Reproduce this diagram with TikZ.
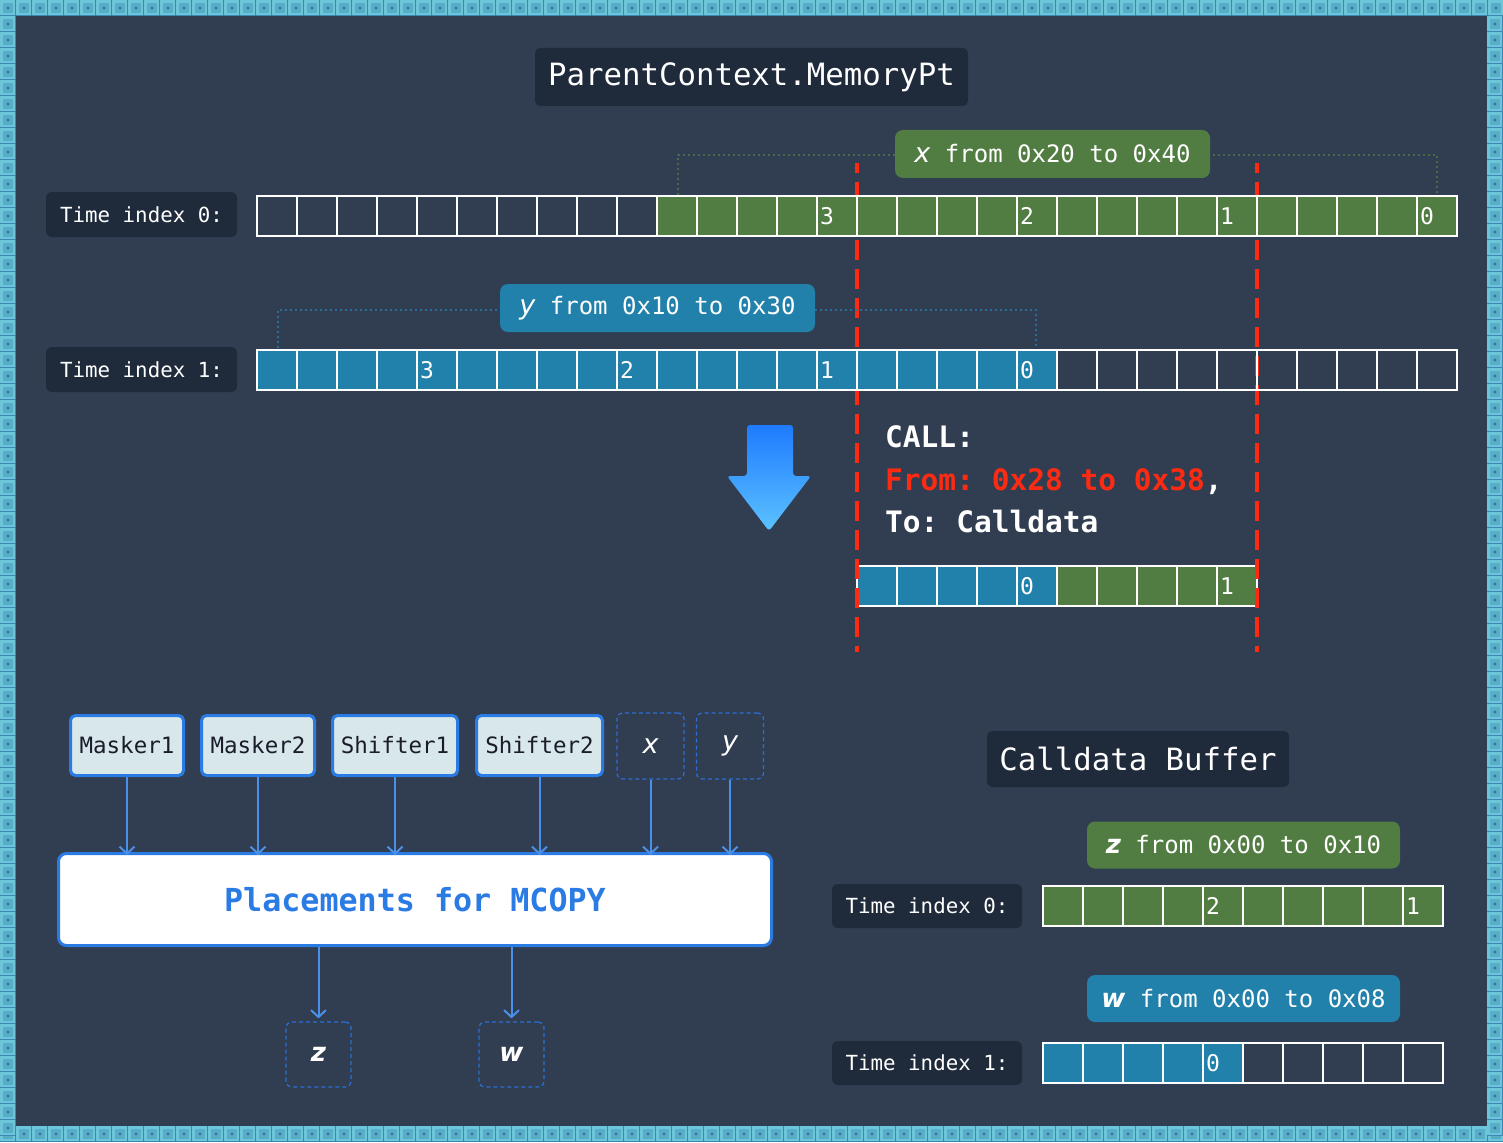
\documentclass[tikz,border=0pt]{standalone}
\usepackage{fontspec}
\setmainfont{DejaVu Sans}
\setmonofont{DejaVu Sans Mono}
\usetikzlibrary{arrows.meta}
\definecolor{bg}{HTML}{313E51}
\definecolor{darkbox}{HTML}{1F2A3B}
\definecolor{gcell}{HTML}{527D42}
\definecolor{bcell}{HTML}{2181AB}
\definecolor{reddash}{HTML}{FF2A12}
\definecolor{boxblue}{HTML}{2B7BE5}
\definecolor{arrblue}{HTML}{4A90E8}
\definecolor{lightfill}{HTML}{D8E7E9}
\definecolor{dashblue}{HTML}{2D6FD6}
\definecolor{gdot}{HTML}{4A6A48}
\definecolor{bdot}{HTML}{2A6D96}
\definecolor{tileLight}{HTML}{6DC5DA}
\definecolor{tileMid}{HTML}{58AEC8}
\definecolor{tileDark}{HTML}{3E87B4}
\definecolor{tileDot}{HTML}{3A6FA0}
\definecolor{txtdark}{HTML}{1A1C2A}
\definecolor{arrtop}{HTML}{1E7BFF}
\definecolor{arrbot}{HTML}{5CC2FF}
\newcommand\varit[1]{{\fontsize{27}{30}\selectfont\rmfamily\itshape #1}}
\newcommand\varbf[1]{{\fontsize{26}{30}\selectfont\rmfamily\bfseries\itshape #1}}
\newcommand\fs[1]{\fontsize{#1}{#1}\selectfont}
\begin{document}
\begin{tikzpicture}[x=1pt,y=-1pt,
  btile/.pic={
    \fill[tileDark] (0,0) rectangle (16,16);
    \fill[tileLight] (0,0) rectangle (15,15);
    \fill[tileMid] (3,3) rectangle (13,13);
    \fill[tileDot] (8,8) circle (1.6);
  },
  tlabel/.style={fill=darkbox, rounded corners=6, text=white, inner sep=0,
    font=\ttfamily\fs{20.8}, minimum width=191, minimum height=45},
  titlebox/.style={fill=darkbox, rounded corners=5, text=white, inner sep=0,
    font=\ttfamily\fs{30.7}},
  rgreen/.style={fill=gcell, rounded corners=8, text=white, inner sep=0,
    font=\ttfamily\fs{24}, minimum width=315, minimum height=48},
  rblue/.style={rgreen, fill=bcell},
  cellbox/.style={draw=white, line width=1.5},
  digit/.style={text=white, inner sep=0, anchor=west, font=\ttfamily\fs{23}},
  reddashed/.style={draw=reddash, line width=3.5, dash pattern=on 20 off 9, dash phase=10},
  gbrk/.style={draw=gdot, line width=2, dash pattern=on 2 off 3},
  bbrk/.style={draw=bdot, line width=2, dash pattern=on 2 off 3},
  calltxt/.style={text=white, inner sep=0, anchor=base west, font=\ttfamily\bfseries\fs{29.5}},
  comp/.style={fill=lightfill, draw=boxblue, line width=3, rounded corners=5,
    text=txtdark, inner sep=0, font=\ttfamily\fs{22.5}, minimum height=60},
  varbox/.style={draw=dashblue, line width=1.2, dash pattern=on 4 off 3, rounded corners=6,
    text=white, inner sep=0, minimum width=67, minimum height=66},
  arr/.style={draw=arrblue, line width=2, -{Straight Barb[length=7,width=15,line width=2]}},
]
% background
\fill[bg] (0,0) rectangle (1503,1142);
\useasboundingbox (0,0) rectangle (1503,1142);
\foreach \i in {0,...,93}{
  \pic at ({16*\i},0) {btile};
  \pic at ({16*\i},1126) {btile};
}
\foreach \j in {1,...,70}{
  \pic at (0,{16*\j}) {btile};
  \pic at (1487,{16*\j}) {btile};
}

% red dashed lines
\draw[reddashed] (857,163) -- (857,652);
\draw[reddashed] (1257,163) -- (1257,652);

% title
\node[titlebox, minimum width=433, minimum height=58] (title) at (751.5,77) {ParentContext.MemoryPt};

% row 0
\draw[gbrk] (678,195) -- (678,155) -- (1437,155) -- (1437,195);
\node[rgreen] (xr) at (1052.5,154) {\varit{x} from 0x20 to 0x40};
\node[tlabel] (t0) at (141.5,214.5) {Time index 0:};
\fill[gcell] (657,196) rectangle (1457,236);
\foreach \k in {0,...,29}{ \draw[cellbox] ({257+40*\k},196) rectangle ++(40,40); }
\node[digit] (r0a) at (820,216) {3};
\node[digit] (r0b) at (1020,216) {2};
\node[digit] (r0c) at (1220,216) {1};
\node[digit] (r0d) at (1420,216) {0};

% row 1
\draw[bbrk] (278,348) -- (278,310) -- (1036,310) -- (1036,348);
\node[rblue] (yr) at (657.5,308) {\varit{y} from 0x10 to 0x30};
\node[tlabel] (t1) at (141.5,369.5) {Time index 1:};
\fill[bcell] (257,350) rectangle (1057,390);
\foreach \k in {0,...,29}{ \draw[cellbox] ({257+40*\k},350) rectangle ++(40,40); }
\node[digit] (r1a) at (420,370) {3};
\node[digit] (r1b) at (620,370) {2};
\node[digit] (r1c) at (820,370) {1};
\node[digit] (r1d) at (1020,370) {0};

% big arrow
\shade[top color=arrtop, bottom color=arrbot, rounded corners=3]
  (747,425) -- (793,425) -- (793,476) -- (811,476) -- (769,531) -- (727,476) -- (747,476) -- cycle;

% CALL text
\node[calltxt] (call1) at (885,447) {CALL:};
\node[calltxt] (call2) at (885,490) {\textcolor{reddash}{From: 0x28 to 0x38},};
\node[calltxt] (call3) at (885,532) {To: Calldata};

% calldata slice
\fill[bcell] (857,566) rectangle (1057,606);
\fill[gcell] (1057,566) rectangle (1257,606);
\foreach \k in {0,...,9}{ \draw[cellbox] ({857+40*\k},566) rectangle ++(40,40); }
\node[digit] (c0) at (1020,586) {0};
\node[digit] (c1) at (1220,586) {1};
\begin{scope}
  \clip (840,560) rectangle (1280,612);
  \draw[reddashed] (857,163) -- (857,652);
  \draw[reddashed] (1257,163) -- (1257,652);
\end{scope}

% components
\node[comp, minimum width=113] (m1) at (127,745.5) {Masker1};
\node[comp, minimum width=113] (m2) at (258,745.5) {Masker2};
\node[comp, minimum width=125] (s1) at (395,745.5) {Shifter1};
\node[comp, minimum width=126] (s2) at (539.5,745.5) {Shifter2};
\node[varbox] (vx) at (650.5,746) {\varit{x}};
\node[varbox] (vy) at (730,746) {\varit{y}};
\node[fill=white, draw=boxblue, line width=3, rounded corners=8, inner sep=0,
  minimum width=713, minimum height=92, text=boxblue,
  font=\ttfamily\bfseries\fs{31.7}] (pl) at (415,899.5) {Placements for MCOPY};
\node[varbox, minimum width=65, minimum height=65] (vz) at (318.5,1054.5) {\varbf{z}};
\node[varbox, minimum width=65, minimum height=65] (vw) at (511.5,1054.5) {\varbf{w}};

\foreach \n in {m1,m2,s1,s2,vx,vy}{
  \draw[arr] (\n.south) -- ([yshift=-3pt]\n.south |- pl.north);
}
\draw[arr] (vz.north |- pl.south) -- ([yshift=3pt]vz.north);
\draw[arr] (vw.north |- pl.south) -- ([yshift=3pt]vw.north);

% calldata buffer
\node[titlebox, minimum width=302, minimum height=56] (cb) at (1138,759) {Calldata Buffer};
\node[rgreen, minimum width=313, minimum height=47] (zr) at (1243.5,845) {\varbf{z} from 0x00 to 0x10};
\node[rblue, minimum width=313, minimum height=47] (wr) at (1243.5,998.5) {\varbf{w} from 0x00 to 0x08};
\node[tlabel, minimum width=190, minimum height=44] (bt0) at (927,906) {Time index 0:};
\node[tlabel, minimum width=190, minimum height=44] (bt1) at (927,1063) {Time index 1:};
\fill[gcell] (1043,886) rectangle (1443,926);
\foreach \k in {0,...,9}{ \draw[cellbox] ({1043+40*\k},886) rectangle ++(40,40); }
\node[digit] (b0a) at (1206,906) {2};
\node[digit] (b0b) at (1406,906) {1};
\fill[bcell] (1043,1043) rectangle (1243,1083);
\foreach \k in {0,...,9}{ \draw[cellbox] ({1043+40*\k},1043) rectangle ++(40,40); }
\node[digit] (b1a) at (1206,1063) {0};
\end{tikzpicture}
\end{document}
